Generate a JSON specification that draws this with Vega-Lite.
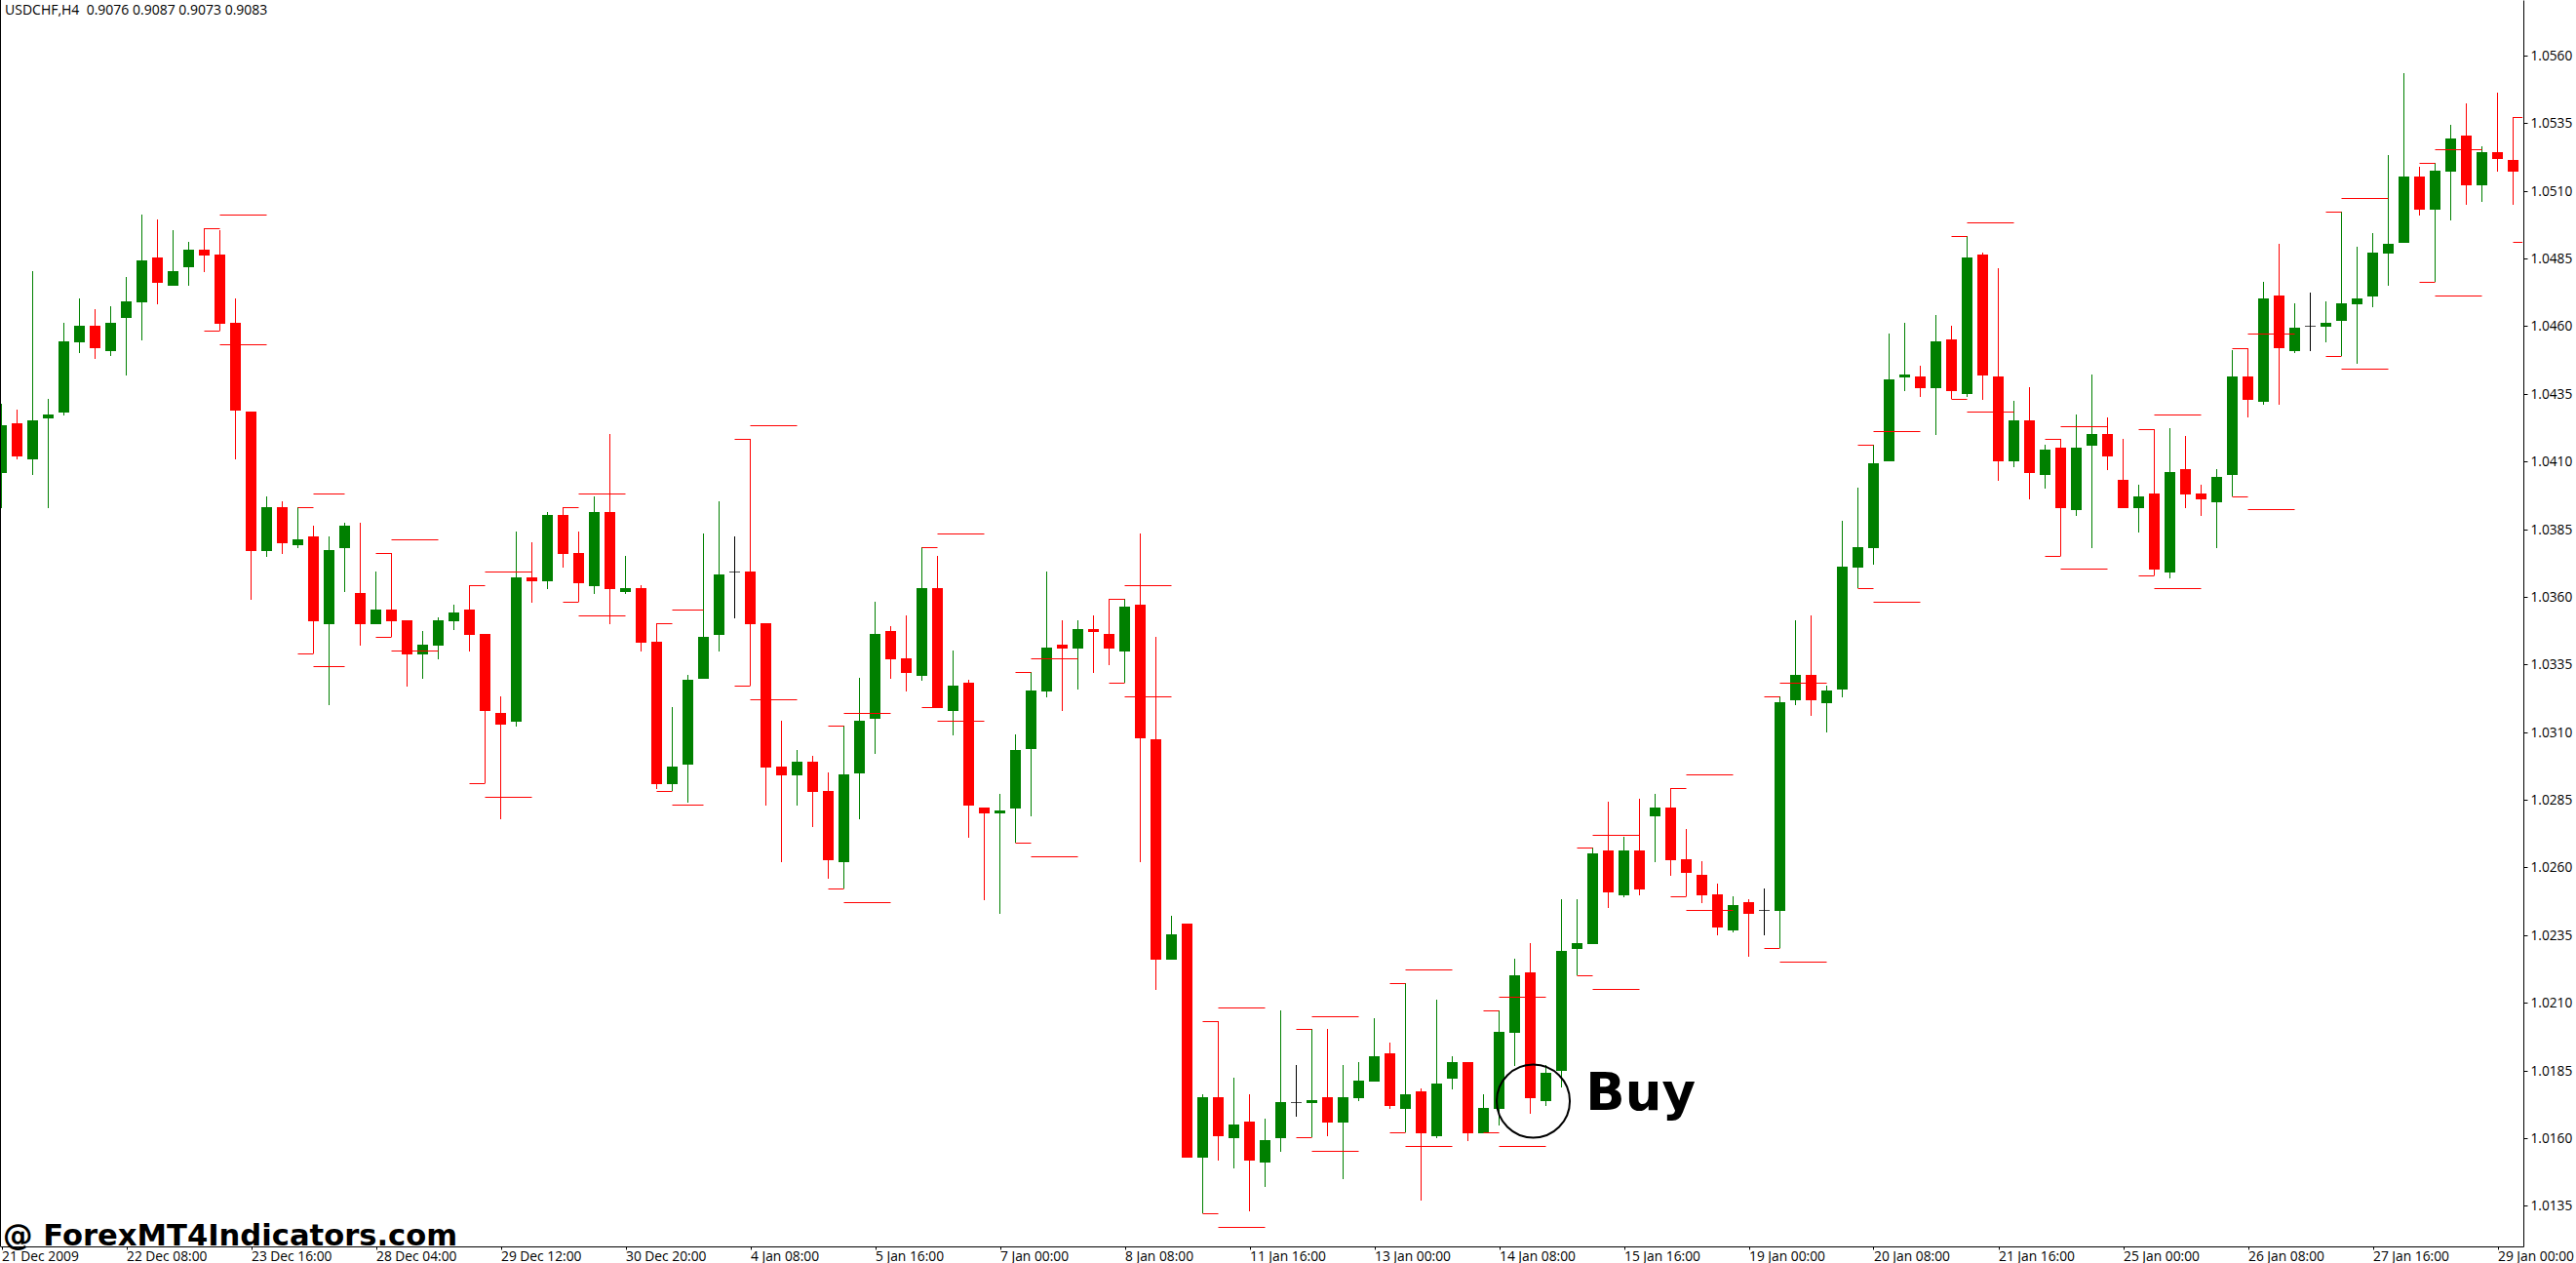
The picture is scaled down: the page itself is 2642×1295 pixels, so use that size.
{
  "$schema": "https://vega.github.io/schema/vega-lite/v6.json",
  "description": "USDCHF H4 candles with pivot levels",
  "width": 2588,
  "height": 1278,
  "autosize": {"type": "none"},
  "padding": {"left": 0, "top": 0, "right": 54, "bottom": 17},
  "background": "white",
  "config": {"view": {"stroke": null}},
  "datasets": {
    "candles": [
      {"bar":0,"open":1.04057,"high":1.04313,"low":1.03928,"close":1.04234,"dir":"up"},
      {"bar":1,"open":1.04241,"high":1.04292,"low":1.04108,"close":1.04119,"dir":"down"},
      {"bar":2,"open":1.04108,"high":1.04803,"low":1.0405,"close":1.04252,"dir":"up"},
      {"bar":3,"open":1.04259,"high":1.04331,"low":1.03928,"close":1.04273,"dir":"up"},
      {"bar":4,"open":1.04281,"high":1.04612,"low":1.0427,"close":1.04544,"dir":"up"},
      {"bar":5,"open":1.0454,"high":1.04702,"low":1.045,"close":1.04601,"dir":"up"},
      {"bar":6,"open":1.04601,"high":1.04663,"low":1.04479,"close":1.04519,"dir":"down"},
      {"bar":7,"open":1.04508,"high":1.04673,"low":1.0449,"close":1.04612,"dir":"up"},
      {"bar":8,"open":1.0463,"high":1.04782,"low":1.04418,"close":1.04691,"dir":"up"},
      {"bar":9,"open":1.04688,"high":1.05012,"low":1.04547,"close":1.04843,"dir":"up"},
      {"bar":10,"open":1.04854,"high":1.04994,"low":1.04681,"close":1.0476,"dir":"down"},
      {"bar":11,"open":1.04749,"high":1.04955,"low":1.04749,"close":1.04803,"dir":"up"},
      {"bar":12,"open":1.04818,"high":1.04911,"low":1.04749,"close":1.04882,"dir":"up"},
      {"bar":13,"open":1.04882,"high":1.04962,"low":1.048,"close":1.04861,"dir":"down"},
      {"bar":14,"open":1.04864,"high":1.04955,"low":1.04583,"close":1.04609,"dir":"down"},
      {"bar":15,"open":1.04612,"high":1.04702,"low":1.04108,"close":1.04288,"dir":"down"},
      {"bar":16,"open":1.04284,"high":1.04284,"low":1.03589,"close":1.03769,"dir":"down"},
      {"bar":17,"open":1.03769,"high":1.03971,"low":1.03747,"close":1.03931,"dir":"up"},
      {"bar":18,"open":1.03931,"high":1.03953,"low":1.03758,"close":1.03798,"dir":"down"},
      {"bar":19,"open":1.03791,"high":1.03931,"low":1.0378,"close":1.03812,"dir":"up"},
      {"bar":20,"open":1.03823,"high":1.03863,"low":1.03391,"close":1.0351,"dir":"down"},
      {"bar":21,"open":1.03499,"high":1.03823,"low":1.032,"close":1.03773,"dir":"up"},
      {"bar":22,"open":1.0378,"high":1.03874,"low":1.03618,"close":1.03863,"dir":"up"},
      {"bar":23,"open":1.03614,"high":1.03874,"low":1.03419,"close":1.03499,"dir":"down"},
      {"bar":24,"open":1.03499,"high":1.03693,"low":1.03499,"close":1.03553,"dir":"up"},
      {"bar":25,"open":1.03553,"high":1.03762,"low":1.03452,"close":1.0351,"dir":"down"},
      {"bar":26,"open":1.03513,"high":1.03513,"low":1.03268,"close":1.03387,"dir":"down"},
      {"bar":27,"open":1.03387,"high":1.03473,"low":1.03297,"close":1.03423,"dir":"up"},
      {"bar":28,"open":1.03419,"high":1.03524,"low":1.03369,"close":1.03513,"dir":"up"},
      {"bar":29,"open":1.0351,"high":1.03571,"low":1.03477,"close":1.03542,"dir":"up"},
      {"bar":30,"open":1.03553,"high":1.03643,"low":1.03398,"close":1.03459,"dir":"down"},
      {"bar":31,"open":1.03463,"high":1.03463,"low":1.02911,"close":1.03178,"dir":"down"},
      {"bar":32,"open":1.03171,"high":1.03232,"low":1.02778,"close":1.03128,"dir":"down"},
      {"bar":33,"open":1.03138,"high":1.03841,"low":1.0312,"close":1.03672,"dir":"up"},
      {"bar":34,"open":1.03672,"high":1.03801,"low":1.03578,"close":1.03657,"dir":"down"},
      {"bar":35,"open":1.03657,"high":1.03913,"low":1.03628,"close":1.03902,"dir":"up"},
      {"bar":36,"open":1.03902,"high":1.03931,"low":1.03708,"close":1.03758,"dir":"down"},
      {"bar":37,"open":1.03762,"high":1.03841,"low":1.03582,"close":1.0365,"dir":"down"},
      {"bar":38,"open":1.03639,"high":1.03971,"low":1.0361,"close":1.03913,"dir":"up"},
      {"bar":39,"open":1.03913,"high":1.04201,"low":1.03499,"close":1.03628,"dir":"down"},
      {"bar":40,"open":1.03618,"high":1.03751,"low":1.0361,"close":1.03632,"dir":"up"},
      {"bar":41,"open":1.03632,"high":1.03643,"low":1.03398,"close":1.0343,"dir":"down"},
      {"bar":42,"open":1.03434,"high":1.03502,"low":1.0289,"close":1.02908,"dir":"down"},
      {"bar":43,"open":1.02908,"high":1.03192,"low":1.02883,"close":1.02973,"dir":"up"},
      {"bar":44,"open":1.0298,"high":1.03311,"low":1.02839,"close":1.03293,"dir":"up"},
      {"bar":45,"open":1.03297,"high":1.03834,"low":1.03297,"close":1.03452,"dir":"up"},
      {"bar":46,"open":1.03459,"high":1.03953,"low":1.03398,"close":1.03683,"dir":"up"},
      {"bar":47,"open":1.03693,"high":1.03823,"low":1.0352,"close":1.03693,"dir":"doji"},
      {"bar":48,"open":1.03693,"high":1.04183,"low":1.03272,"close":1.03499,"dir":"down"},
      {"bar":49,"open":1.03502,"high":1.03502,"low":1.02828,"close":1.02969,"dir":"down"},
      {"bar":50,"open":1.02973,"high":1.03142,"low":1.02619,"close":1.0294,"dir":"down"},
      {"bar":51,"open":1.0294,"high":1.03034,"low":1.02828,"close":1.02991,"dir":"up"},
      {"bar":52,"open":1.02991,"high":1.03012,"low":1.02749,"close":1.02879,"dir":"down"},
      {"bar":53,"open":1.02883,"high":1.02951,"low":1.02558,"close":1.02627,"dir":"down"},
      {"bar":54,"open":1.02619,"high":1.03124,"low":1.02522,"close":1.02944,"dir":"up"},
      {"bar":55,"open":1.02947,"high":1.03301,"low":1.02778,"close":1.03142,"dir":"up"},
      {"bar":56,"open":1.03149,"high":1.03582,"low":1.03019,"close":1.03463,"dir":"up"},
      {"bar":57,"open":1.03473,"high":1.03492,"low":1.03297,"close":1.03369,"dir":"down"},
      {"bar":58,"open":1.03373,"high":1.03531,"low":1.0325,"close":1.03319,"dir":"down"},
      {"bar":59,"open":1.03308,"high":1.03783,"low":1.0329,"close":1.03632,"dir":"up"},
      {"bar":60,"open":1.03632,"high":1.03751,"low":1.03189,"close":1.03189,"dir":"down"},
      {"bar":61,"open":1.03178,"high":1.03401,"low":1.03088,"close":1.03272,"dir":"up"},
      {"bar":62,"open":1.03282,"high":1.03293,"low":1.0271,"close":1.02828,"dir":"down"},
      {"bar":63,"open":1.02821,"high":1.02821,"low":1.02479,"close":1.028,"dir":"down"},
      {"bar":64,"open":1.028,"high":1.02872,"low":1.02428,"close":1.0281,"dir":"up"},
      {"bar":65,"open":1.02818,"high":1.03092,"low":1.02692,"close":1.03034,"dir":"up"},
      {"bar":66,"open":1.03037,"high":1.03322,"low":1.02789,"close":1.03254,"dir":"up"},
      {"bar":67,"open":1.0325,"high":1.03693,"low":1.03228,"close":1.03412,"dir":"up"},
      {"bar":68,"open":1.03423,"high":1.03513,"low":1.03178,"close":1.03409,"dir":"down"},
      {"bar":69,"open":1.03409,"high":1.03513,"low":1.03257,"close":1.03481,"dir":"up"},
      {"bar":70,"open":1.03481,"high":1.03531,"low":1.03319,"close":1.0347,"dir":"down"},
      {"bar":71,"open":1.03463,"high":1.03592,"low":1.03347,"close":1.03409,"dir":"down"},
      {"bar":72,"open":1.03398,"high":1.03592,"low":1.03282,"close":1.03564,"dir":"up"},
      {"bar":73,"open":1.03571,"high":1.03834,"low":1.02619,"close":1.03077,"dir":"down"},
      {"bar":74,"open":1.03073,"high":1.03452,"low":1.02147,"close":1.02259,"dir":"down"},
      {"bar":75,"open":1.02259,"high":1.02421,"low":1.02259,"close":1.02353,"dir":"up"},
      {"bar":76,"open":1.02392,"high":1.02392,"low":1.01528,"close":1.01528,"dir":"down"},
      {"bar":77,"open":1.01528,"high":1.01762,"low":1.01322,"close":1.01751,"dir":"up"},
      {"bar":78,"open":1.01751,"high":1.02032,"low":1.01517,"close":1.01607,"dir":"down"},
      {"bar":79,"open":1.016,"high":1.01823,"low":1.01488,"close":1.0165,"dir":"up"},
      {"bar":80,"open":1.01661,"high":1.01762,"low":1.01329,"close":1.01517,"dir":"down"},
      {"bar":81,"open":1.0151,"high":1.01672,"low":1.01419,"close":1.01592,"dir":"up"},
      {"bar":82,"open":1.016,"high":1.02072,"low":1.01549,"close":1.01733,"dir":"up"},
      {"bar":83,"open":1.01733,"high":1.0187,"low":1.01679,"close":1.01733,"dir":"doji"},
      {"bar":84,"open":1.01729,"high":1.02003,"low":1.01603,"close":1.0174,"dir":"up"},
      {"bar":85,"open":1.01751,"high":1.02003,"low":1.01607,"close":1.01657,"dir":"down"},
      {"bar":86,"open":1.01657,"high":1.0187,"low":1.01448,"close":1.01751,"dir":"up"},
      {"bar":87,"open":1.01747,"high":1.01881,"low":1.01737,"close":1.01812,"dir":"up"},
      {"bar":88,"open":1.01809,"high":1.02043,"low":1.01809,"close":1.01902,"dir":"up"},
      {"bar":89,"open":1.01913,"high":1.01953,"low":1.01708,"close":1.01719,"dir":"down"},
      {"bar":90,"open":1.01708,"high":1.02173,"low":1.01621,"close":1.01762,"dir":"up"},
      {"bar":91,"open":1.01773,"high":1.01783,"low":1.01369,"close":1.01618,"dir":"down"},
      {"bar":92,"open":1.01607,"high":1.02111,"low":1.016,"close":1.01801,"dir":"up"},
      {"bar":93,"open":1.01819,"high":1.01902,"low":1.0178,"close":1.01881,"dir":"up"},
      {"bar":94,"open":1.01881,"high":1.01881,"low":1.01589,"close":1.01618,"dir":"down"},
      {"bar":95,"open":1.01618,"high":1.01762,"low":1.01618,"close":1.01711,"dir":"up"},
      {"bar":96,"open":1.01708,"high":1.02072,"low":1.01646,"close":1.01992,"dir":"up"},
      {"bar":97,"open":1.01989,"high":1.02263,"low":1.01866,"close":1.02201,"dir":"up"},
      {"bar":98,"open":1.02212,"high":1.0232,"low":1.0169,"close":1.01747,"dir":"down"},
      {"bar":99,"open":1.01737,"high":1.0187,"low":1.01719,"close":1.01841,"dir":"up"},
      {"bar":100,"open":1.01848,"high":1.02482,"low":1.01787,"close":1.02291,"dir":"up"},
      {"bar":101,"open":1.02299,"high":1.02482,"low":1.02201,"close":1.0232,"dir":"up"},
      {"bar":102,"open":1.02317,"high":1.02673,"low":1.02317,"close":1.02652,"dir":"up"},
      {"bar":103,"open":1.02663,"high":1.02843,"low":1.0245,"close":1.02508,"dir":"down"},
      {"bar":104,"open":1.02497,"high":1.02713,"low":1.0249,"close":1.02663,"dir":"up"},
      {"bar":105,"open":1.02663,"high":1.02854,"low":1.02497,"close":1.02519,"dir":"down"},
      {"bar":106,"open":1.02789,"high":1.02872,"low":1.02619,"close":1.02821,"dir":"up"},
      {"bar":107,"open":1.02821,"high":1.02893,"low":1.02569,"close":1.02627,"dir":"down"},
      {"bar":108,"open":1.0263,"high":1.02742,"low":1.02493,"close":1.0258,"dir":"down"},
      {"bar":109,"open":1.02573,"high":1.02623,"low":1.02468,"close":1.02497,"dir":"down"},
      {"bar":110,"open":1.025,"high":1.0254,"low":1.02349,"close":1.02378,"dir":"down"},
      {"bar":111,"open":1.02367,"high":1.02493,"low":1.0236,"close":1.02461,"dir":"up"},
      {"bar":112,"open":1.02472,"high":1.02482,"low":1.0227,"close":1.02428,"dir":"down"},
      {"bar":113,"open":1.02443,"high":1.02522,"low":1.02349,"close":1.02443,"dir":"doji"},
      {"bar":114,"open":1.02439,"high":1.03232,"low":1.02302,"close":1.0321,"dir":"up"},
      {"bar":115,"open":1.03218,"high":1.03513,"low":1.032,"close":1.03311,"dir":"up"},
      {"bar":116,"open":1.03311,"high":1.03531,"low":1.0316,"close":1.03218,"dir":"down"},
      {"bar":117,"open":1.03207,"high":1.03272,"low":1.03099,"close":1.03254,"dir":"up"},
      {"bar":118,"open":1.03257,"high":1.03881,"low":1.03228,"close":1.03711,"dir":"up"},
      {"bar":119,"open":1.03708,"high":1.04003,"low":1.03632,"close":1.03783,"dir":"up"},
      {"bar":120,"open":1.0378,"high":1.04162,"low":1.03719,"close":1.04093,"dir":"up"},
      {"bar":121,"open":1.041,"high":1.04573,"low":1.041,"close":1.04403,"dir":"up"},
      {"bar":122,"open":1.0441,"high":1.04612,"low":1.0436,"close":1.04421,"dir":"up"},
      {"bar":123,"open":1.04414,"high":1.04454,"low":1.04338,"close":1.04371,"dir":"down"},
      {"bar":124,"open":1.04371,"high":1.04641,"low":1.04198,"close":1.04544,"dir":"up"},
      {"bar":125,"open":1.04551,"high":1.04601,"low":1.04331,"close":1.0436,"dir":"down"},
      {"bar":126,"open":1.04349,"high":1.04933,"low":1.04338,"close":1.04854,"dir":"up"},
      {"bar":127,"open":1.04864,"high":1.04872,"low":1.04328,"close":1.04418,"dir":"down"},
      {"bar":128,"open":1.04414,"high":1.04814,"low":1.04028,"close":1.041,"dir":"down"},
      {"bar":129,"open":1.041,"high":1.04324,"low":1.04079,"close":1.04252,"dir":"up"},
      {"bar":130,"open":1.04252,"high":1.04374,"low":1.0396,"close":1.04057,"dir":"down"},
      {"bar":131,"open":1.0405,"high":1.04162,"low":1.04,"close":1.04144,"dir":"up"},
      {"bar":132,"open":1.04151,"high":1.04183,"low":1.03751,"close":1.03928,"dir":"down"},
      {"bar":133,"open":1.0392,"high":1.04273,"low":1.03899,"close":1.04151,"dir":"up"},
      {"bar":134,"open":1.04158,"high":1.04421,"low":1.0378,"close":1.04201,"dir":"up"},
      {"bar":135,"open":1.04201,"high":1.04263,"low":1.04068,"close":1.04119,"dir":"down"},
      {"bar":136,"open":1.04032,"high":1.04183,"low":1.03928,"close":1.03928,"dir":"down"},
      {"bar":137,"open":1.03928,"high":1.04014,"low":1.03837,"close":1.03971,"dir":"up"},
      {"bar":138,"open":1.03982,"high":1.04219,"low":1.03679,"close":1.037,"dir":"down"},
      {"bar":139,"open":1.0369,"high":1.04223,"low":1.03668,"close":1.04061,"dir":"up"},
      {"bar":140,"open":1.04072,"high":1.04194,"low":1.03928,"close":1.03978,"dir":"down"},
      {"bar":141,"open":1.03982,"high":1.04014,"low":1.03899,"close":1.0396,"dir":"down"},
      {"bar":142,"open":1.03949,"high":1.04072,"low":1.0378,"close":1.04043,"dir":"up"},
      {"bar":143,"open":1.0405,"high":1.04511,"low":1.03971,"close":1.04414,"dir":"up"},
      {"bar":144,"open":1.04414,"high":1.04519,"low":1.04263,"close":1.04328,"dir":"down"},
      {"bar":145,"open":1.0432,"high":1.04764,"low":1.0431,"close":1.04702,"dir":"up"},
      {"bar":146,"open":1.04713,"high":1.04904,"low":1.0431,"close":1.04519,"dir":"down"},
      {"bar":147,"open":1.04508,"high":1.04684,"low":1.045,"close":1.04594,"dir":"up"},
      {"bar":148,"open":1.04601,"high":1.04724,"low":1.04508,"close":1.04601,"dir":"doji"},
      {"bar":149,"open":1.04598,"high":1.04691,"low":1.0454,"close":1.04612,"dir":"up"},
      {"bar":150,"open":1.04619,"high":1.05023,"low":1.0449,"close":1.04684,"dir":"up"},
      {"bar":151,"open":1.04681,"high":1.04893,"low":1.04461,"close":1.04702,"dir":"up"},
      {"bar":152,"open":1.0471,"high":1.04944,"low":1.0467,"close":1.04872,"dir":"up"},
      {"bar":153,"open":1.04868,"high":1.05232,"low":1.04749,"close":1.04904,"dir":"up"},
      {"bar":154,"open":1.04908,"high":1.05535,"low":1.04908,"close":1.05153,"dir":"up"},
      {"bar":155,"open":1.05153,"high":1.05189,"low":1.05009,"close":1.0503,"dir":"down"},
      {"bar":156,"open":1.0503,"high":1.05203,"low":1.04764,"close":1.05174,"dir":"up"},
      {"bar":157,"open":1.05171,"high":1.05344,"low":1.04991,"close":1.05293,"dir":"up"},
      {"bar":158,"open":1.05304,"high":1.05423,"low":1.05048,"close":1.0512,"dir":"down"},
      {"bar":159,"open":1.0512,"high":1.05264,"low":1.05059,"close":1.05243,"dir":"up"},
      {"bar":160,"open":1.05243,"high":1.05463,"low":1.05171,"close":1.05218,"dir":"down"},
      {"bar":161,"open":1.05214,"high":1.05373,"low":1.05048,"close":1.05171,"dir":"down"}
    ],
    "levels": [
      {"from":13,"to":14,"price":1.04962},{"from":13,"to":14,"price":1.04583},
      {"from":14,"to":17,"price":1.05012},{"from":14,"to":17,"price":1.04533},
      {"from":19,"to":20,"price":1.03931},{"from":19,"to":20,"price":1.03391},
      {"from":20,"to":22,"price":1.03982},{"from":20,"to":22,"price":1.03344},
      {"from":24,"to":25,"price":1.03762},{"from":24,"to":25,"price":1.03452},
      {"from":25,"to":28,"price":1.03812},{"from":25,"to":28,"price":1.03401},
      {"from":30,"to":31,"price":1.03643},{"from":30,"to":31,"price":1.02911},
      {"from":31,"to":34,"price":1.03693},{"from":31,"to":34,"price":1.02861},
      {"from":36,"to":37,"price":1.03931},{"from":36,"to":37,"price":1.03582},
      {"from":37,"to":40,"price":1.03982},{"from":37,"to":40,"price":1.03531},
      {"from":42,"to":43,"price":1.03502},{"from":42,"to":43,"price":1.02883},
      {"from":43,"to":45,"price":1.03553},{"from":43,"to":45,"price":1.02832},
      {"from":47,"to":48,"price":1.04183},{"from":47,"to":48,"price":1.03272},
      {"from":48,"to":51,"price":1.04234},{"from":48,"to":51,"price":1.03221},
      {"from":53,"to":54,"price":1.03124},{"from":53,"to":54,"price":1.02522},
      {"from":54,"to":57,"price":1.03171},{"from":54,"to":57,"price":1.02472},
      {"from":59,"to":60,"price":1.03783},{"from":59,"to":60,"price":1.03192},
      {"from":60,"to":63,"price":1.03834},{"from":60,"to":63,"price":1.03142},
      {"from":65,"to":66,"price":1.03322},{"from":65,"to":66,"price":1.02692},
      {"from":66,"to":69,"price":1.03373},{"from":66,"to":69,"price":1.02641},
      {"from":71,"to":72,"price":1.03592},{"from":71,"to":72,"price":1.03282},
      {"from":72,"to":75,"price":1.03643},{"from":72,"to":75,"price":1.03232},
      {"from":77,"to":78,"price":1.02032},{"from":77,"to":78,"price":1.01322},
      {"from":78,"to":81,"price":1.02082},{"from":78,"to":81,"price":1.01272},
      {"from":83,"to":84,"price":1.02003},{"from":83,"to":84,"price":1.01603},
      {"from":84,"to":87,"price":1.0205},{"from":84,"to":87,"price":1.01553},
      {"from":89,"to":90,"price":1.02173},{"from":89,"to":90,"price":1.01621},
      {"from":90,"to":93,"price":1.02223},{"from":90,"to":93,"price":1.01571},
      {"from":95,"to":96,"price":1.02072},{"from":95,"to":96,"price":1.01621},
      {"from":96,"to":99,"price":1.02122},{"from":96,"to":99,"price":1.01571},
      {"from":101,"to":102,"price":1.02673},{"from":101,"to":102,"price":1.02201},
      {"from":102,"to":105,"price":1.0272},{"from":102,"to":105,"price":1.02151},
      {"from":107,"to":108,"price":1.02893},{"from":107,"to":108,"price":1.02493},
      {"from":108,"to":111,"price":1.02944},{"from":108,"to":111,"price":1.02443},
      {"from":113,"to":114,"price":1.03232},{"from":113,"to":114,"price":1.02302},
      {"from":114,"to":117,"price":1.03282},{"from":114,"to":117,"price":1.02252},
      {"from":119,"to":120,"price":1.04162},{"from":119,"to":120,"price":1.03632},
      {"from":120,"to":123,"price":1.04212},{"from":120,"to":123,"price":1.03582},
      {"from":125,"to":126,"price":1.04933},{"from":125,"to":126,"price":1.04331},
      {"from":126,"to":129,"price":1.04983},{"from":126,"to":129,"price":1.04284},
      {"from":131,"to":132,"price":1.04183},{"from":131,"to":132,"price":1.03751},
      {"from":132,"to":135,"price":1.0423},{"from":132,"to":135,"price":1.03704},
      {"from":137,"to":138,"price":1.04219},{"from":137,"to":138,"price":1.03679},
      {"from":138,"to":141,"price":1.04273},{"from":138,"to":141,"price":1.03632},
      {"from":143,"to":144,"price":1.04519},{"from":143,"to":144,"price":1.03971},
      {"from":144,"to":147,"price":1.04573},{"from":144,"to":147,"price":1.03924},
      {"from":149,"to":150,"price":1.05023},{"from":149,"to":150,"price":1.0449},
      {"from":150,"to":153,"price":1.05073},{"from":150,"to":153,"price":1.04443},
      {"from":155,"to":156,"price":1.05203},{"from":155,"to":156,"price":1.04764},
      {"from":156,"to":159,"price":1.05254},{"from":156,"to":159,"price":1.04713},
      {"from":161,"to":161.6,"price":1.05373},{"from":161,"to":161.6,"price":1.04911}
    ]
  },
  "layer": [
    {
      "data": {"name": "candles"},
      "mark": {"type": "rule", "strokeWidth": 1},
      "encoding": {
        "x": {
          "field": "bar", "type": "quantitative",
          "scale": {"domain": [-0.09375, 161.65625], "nice": false, "zero": false, "padding": 0},
          "axis": {
            "orient": "bottom", "title": null, "grid": false,
            "values": [0,8,16,24,32,40,48,56,64,72,80,88,96,104,112,120,128,136,144,152,160],
            "labelExpr": "['21 Dec 2009','22 Dec 08:00','23 Dec 16:00','28 Dec 04:00','29 Dec 12:00','30 Dec 20:00','4 Jan 08:00','5 Jan 16:00','7 Jan 00:00','8 Jan 08:00','11 Jan 16:00','13 Jan 00:00','14 Jan 08:00','15 Jan 16:00','19 Jan 00:00','20 Jan 08:00','21 Jan 16:00','25 Jan 00:00','26 Jan 08:00','27 Jan 16:00','29 Jan 00:00'][datum.value/8]",
            "labelAlign": "left", "labelBaseline": "top", "labelPadding": 0,
            "labelOverlap": false, "labelFlush": false, "labelBound": false,
            "labelFont": "Open Sans", "labelFontSize": 13.8, "labelColor": "black",
            "tickColor": "black", "tickSize": 3, "domainColor": "black", "domainWidth": 1
          }
        },
        "y": {
          "field": "low", "type": "quantitative",
          "scale": {"domain": [1.011996, 1.05805], "nice": false, "zero": false, "round": true},
          "axis": {
            "orient": "right", "title": null, "grid": false, "format": ".4f",
            "values": [1.0135,1.016,1.0185,1.021,1.0235,1.026,1.0285,1.031,1.0335,1.036,1.0385,1.041,1.0435,1.046,1.0485,1.051,1.0535,1.056],
            "labelFont": "Open Sans", "labelFontSize": 13.7, "labelColor": "black", "labelPadding": 3,
            "labelOverlap": false, "labelFlush": false, "labelBound": false,
            "tickColor": "black", "tickSize": 4, "domainColor": "black", "domainWidth": 1
          }
        },
        "y2": {"field": "high"},
        "color": {
          "field": "dir", "type": "nominal", "legend": null,
          "scale": {"domain": ["up", "down", "doji"], "range": ["#008000", "#FF0000", "#000000"]}
        }
      }
    },
    {
      "data": {"name": "candles"},
      "mark": {"type": "bar", "size": 11},
      "encoding": {
        "x": {"field": "bar", "type": "quantitative", "scale": {"domain": [-0.09375, 161.65625], "nice": false, "zero": false, "padding": 0}},
        "y": {"field": "open", "type": "quantitative", "scale": {"domain": [1.011996, 1.05805], "nice": false, "zero": false, "round": true}},
        "y2": {"field": "close"},
        "color": {
          "field": "dir", "type": "nominal", "legend": null,
          "scale": {"domain": ["up", "down", "doji"], "range": ["#008000", "#FF0000", "#000000"]}
        }
      }
    },
    {
      "data": {"name": "candles"},
      "transform": [{"filter": "datum.dir === 'doji'"}],
      "mark": {"type": "tick", "orient": "horizontal", "size": 11, "thickness": 1, "color": "black", "yOffset": 0.5},
      "encoding": {
        "x": {"field": "bar", "type": "quantitative", "scale": {"domain": [-0.09375, 161.65625], "nice": false, "zero": false, "padding": 0}},
        "y": {"field": "close", "type": "quantitative", "scale": {"domain": [1.011996, 1.05805], "nice": false, "zero": false, "round": true}}
      }
    },
    {
      "data": {"name": "levels"},
      "mark": {"type": "rule", "color": "#FF0000", "strokeWidth": 1, "yOffset": 0.5},
      "encoding": {
        "x": {"field": "from", "type": "quantitative", "scale": {"domain": [-0.09375, 161.65625], "nice": false, "zero": false, "padding": 0}},
        "x2": {"field": "to"},
        "y": {"field": "price", "type": "quantitative", "scale": {"domain": [1.011996, 1.05805], "nice": false, "zero": false, "round": true}}
      }
    },
    {
      "data": {"values": [{"bar": -0.0625}]},
      "mark": {"type": "rule", "color": "black", "strokeWidth": 1},
      "encoding": {
        "x": {"field": "bar", "type": "quantitative", "scale": {"domain": [-0.09375, 161.65625], "nice": false, "zero": false, "padding": 0}}
      }
    },
    {
      "data": {"values": [{"bar": 98.19, "price": 1.01738}]},
      "mark": {"type": "point", "shape": "circle", "filled": false, "size": 5625, "color": "black", "strokeWidth": 2, "opacity": 1},
      "encoding": {
        "x": {"field": "bar", "type": "quantitative", "scale": {"domain": [-0.09375, 161.65625], "nice": false, "zero": false, "padding": 0}},
        "y": {"field": "price", "type": "quantitative", "scale": {"domain": [1.011996, 1.05805], "nice": false, "zero": false, "round": true}}
      }
    },
    {
      "data": {"values": [{"bar": 101.55, "price": 1.01704, "label": "Buy"}]},
      "mark": {"type": "text", "align": "left", "baseline": "alphabetic", "font": "DejaVu Sans", "fontWeight": "bold", "fontSize": 53, "color": "black"},
      "encoding": {
        "x": {"field": "bar", "type": "quantitative", "scale": {"domain": [-0.09375, 161.65625], "nice": false, "zero": false, "padding": 0}},
        "y": {"field": "price", "type": "quantitative", "scale": {"domain": [1.011996, 1.05805], "nice": false, "zero": false, "round": true}},
        "text": {"field": "label"}
      }
    },
    {
      "data": {"values": [{"bar": 0.1, "price": 1.01205, "label": "@ ForexMT4Indicators.com"}]},
      "mark": {"type": "text", "align": "left", "baseline": "alphabetic", "font": "DejaVu Sans", "fontWeight": "bold", "fontSize": 30.6, "color": "black"},
      "encoding": {
        "x": {"field": "bar", "type": "quantitative", "scale": {"domain": [-0.09375, 161.65625], "nice": false, "zero": false, "padding": 0}},
        "y": {"field": "price", "type": "quantitative", "scale": {"domain": [1.011996, 1.05805], "nice": false, "zero": false, "round": true}},
        "text": {"field": "label"}
      }
    },
    {
      "data": {"values": [{"bar": 0.22, "price": 1.05751, "label": "USDCHF,H4\u00a0 0.9076 0.9087 0.9073 0.9083"}]},
      "mark": {"type": "text", "align": "left", "baseline": "alphabetic", "font": "Open Sans", "fontSize": 14, "color": "black"},
      "encoding": {
        "x": {"field": "bar", "type": "quantitative", "scale": {"domain": [-0.09375, 161.65625], "nice": false, "zero": false, "padding": 0}},
        "y": {"field": "price", "type": "quantitative", "scale": {"domain": [1.011996, 1.05805], "nice": false, "zero": false, "round": true}},
        "text": {"field": "label"}
      }
    }
  ]
}
